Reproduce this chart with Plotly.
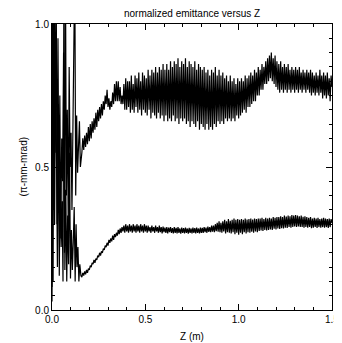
import numpy as np
import plotly.graph_objects as go

# ---- data ----
# early (z < 0.16) strongly oscillating part
z_early_upper = [0.000, 0.004, 0.008, 0.012, 0.017, 0.022, 0.027, 0.032, 0.037, 0.042, 0.047,
                 0.052, 0.057, 0.062, 0.067, 0.072, 0.077, 0.082, 0.087, 0.092, 0.097, 0.102,
                 0.107, 0.112, 0.117, 0.122, 0.127, 0.132, 0.137, 0.142, 0.147, 0.152, 0.156]
eps_early_upper = [0.08, 1.20, 0.35, 1.15, 0.55, 1.25, 0.30, 0.95, 0.40, 0.75, 0.25,
                   0.60, 0.45, 0.90, 0.20, 1.20, 0.40, 0.70, 0.30, 0.85, 0.50, 0.62,
                   0.35, 0.58, 0.80, 1.20, 0.40, 0.68, 0.48, 0.62, 0.66, 0.50, 0.55]

z_early_lower = [0.000, 0.003, 0.006, 0.010, 0.014, 0.019, 0.024, 0.029, 0.034, 0.039, 0.044,
                 0.049, 0.054, 0.059, 0.064, 0.069, 0.074, 0.079, 0.084, 0.089, 0.094, 0.099,
                 0.104, 0.109, 0.114, 0.119, 0.124, 0.129, 0.134, 0.139, 0.144, 0.149, 0.155]
eps_early_lower = [0.03, 0.45, 0.10, 1.20, 0.30, 0.85, 0.55, 0.15, 0.72, 0.12, 0.50,
                   0.22, 0.38, 0.10, 1.20, 0.14, 0.42, 0.10, 0.33, 0.16, 0.55, 0.11,
                   0.28, 0.14, 0.24, 0.36, 0.10, 0.30, 0.15, 0.22, 0.10, 0.16, 0.12]

# main part, sampled every 0.005 m from z = 0.16 to 1.50
z_main = np.round(0.16 + 0.005 * np.arange(269), 3)

eps_upper = [
    0.55, 0.60, 0.56, 0.61, 0.57, 0.62, 0.58, 0.64, 0.59, 0.65,
    0.60, 0.66, 0.62, 0.67, 0.63, 0.69, 0.64, 0.70, 0.66, 0.71,
    0.67, 0.72, 0.68, 0.73, 0.70, 0.75, 0.72, 0.77, 0.71, 0.74,
    0.70, 0.73, 0.71, 0.76, 0.72, 0.79, 0.73, 0.80, 0.73, 0.80,
    0.73, 0.78, 0.72, 0.75, 0.72, 0.79, 0.70, 0.81, 0.70, 0.80,
    0.71, 0.80, 0.69, 0.82, 0.70, 0.79, 0.69, 0.82, 0.71, 0.81,
    0.69, 0.83, 0.70, 0.80, 0.68, 0.83, 0.70, 0.82, 0.69, 0.81,
    0.68, 0.84, 0.70, 0.82, 0.67, 0.84, 0.69, 0.83, 0.68, 0.85,
    0.67, 0.83, 0.69, 0.85, 0.67, 0.84, 0.68, 0.86, 0.66, 0.84,
    0.68, 0.86, 0.66, 0.84, 0.67, 0.87, 0.66, 0.85, 0.68, 0.87,
    0.66, 0.86, 0.67, 0.88, 0.65, 0.85, 0.67, 0.87, 0.66, 0.86,
    0.67, 0.88, 0.65, 0.85, 0.66, 0.87, 0.64, 0.86, 0.66, 0.85,
    0.65, 0.87, 0.64, 0.84, 0.66, 0.86, 0.63, 0.85, 0.65, 0.84,
    0.64, 0.85, 0.63, 0.83, 0.65, 0.84, 0.63, 0.82, 0.64, 0.84,
    0.63, 0.83, 0.65, 0.85, 0.64, 0.82, 0.66, 0.84, 0.65, 0.82,
    0.66, 0.83, 0.65, 0.81, 0.67, 0.82, 0.66, 0.80, 0.67, 0.82,
    0.66, 0.80, 0.67, 0.81, 0.66, 0.79, 0.68, 0.81, 0.67, 0.80,
    0.68, 0.81, 0.69, 0.80, 0.70, 0.82, 0.69, 0.81, 0.71, 0.82,
    0.71, 0.83, 0.72, 0.82, 0.73, 0.84, 0.73, 0.83, 0.75, 0.85,
    0.75, 0.84, 0.77, 0.86, 0.77, 0.85, 0.79, 0.87, 0.79, 0.88,
    0.80, 0.89, 0.81, 0.90, 0.80, 0.88, 0.79, 0.89, 0.78, 0.87,
    0.77, 0.86, 0.76, 0.87, 0.77, 0.85, 0.76, 0.86, 0.77, 0.85,
    0.76, 0.86, 0.77, 0.84, 0.76, 0.85, 0.77, 0.84, 0.76, 0.85,
    0.77, 0.84, 0.76, 0.85, 0.77, 0.83, 0.76, 0.84, 0.77, 0.83,
    0.76, 0.84, 0.77, 0.83, 0.76, 0.84, 0.75, 0.83, 0.76, 0.82,
    0.75, 0.83, 0.76, 0.82, 0.75, 0.84, 0.76, 0.82, 0.74, 0.83,
    0.75, 0.82, 0.74, 0.83, 0.75, 0.81, 0.73, 0.82, 0.78,
]

eps_lower = [
    0.115, 0.13, 0.12, 0.135, 0.125, 0.14, 0.13, 0.145, 0.14, 0.155,
    0.15, 0.165, 0.16, 0.175, 0.165, 0.18, 0.175, 0.19, 0.185, 0.20,
    0.19, 0.205, 0.20, 0.215, 0.21, 0.225, 0.22, 0.235, 0.225, 0.245,
    0.235, 0.25, 0.24, 0.26, 0.245, 0.265, 0.255, 0.27, 0.26, 0.28,
    0.265, 0.285, 0.27, 0.29, 0.275, 0.295, 0.27, 0.30, 0.275, 0.295,
    0.27, 0.30, 0.275, 0.295, 0.27, 0.30, 0.275, 0.295, 0.27, 0.30,
    0.275, 0.295, 0.27, 0.30, 0.275, 0.295, 0.27, 0.30, 0.275, 0.295,
    0.27, 0.295, 0.275, 0.29, 0.27, 0.295, 0.275, 0.29, 0.27, 0.295,
    0.275, 0.29, 0.27, 0.295, 0.272, 0.29, 0.268, 0.292, 0.272, 0.288,
    0.27, 0.29, 0.268, 0.288, 0.272, 0.29, 0.27, 0.286, 0.268, 0.29,
    0.27, 0.287, 0.268, 0.29, 0.27, 0.285, 0.267, 0.288, 0.27, 0.286,
    0.268, 0.288, 0.27, 0.285, 0.267, 0.287, 0.27, 0.285, 0.268, 0.288,
    0.27, 0.286, 0.268, 0.288, 0.27, 0.285, 0.268, 0.288, 0.27, 0.287,
    0.27, 0.29, 0.272, 0.288, 0.27, 0.292, 0.273, 0.29, 0.272, 0.295,
    0.274, 0.295, 0.272, 0.30, 0.276, 0.305, 0.274, 0.31, 0.272, 0.305,
    0.27, 0.31, 0.275, 0.315, 0.268, 0.31, 0.272, 0.318, 0.27, 0.312,
    0.268, 0.315, 0.272, 0.32, 0.265, 0.315, 0.27, 0.318, 0.263, 0.315,
    0.27, 0.318, 0.265, 0.315, 0.272, 0.32, 0.268, 0.316, 0.272, 0.318,
    0.27, 0.32, 0.274, 0.316, 0.27, 0.32, 0.275, 0.318, 0.272, 0.32,
    0.276, 0.32, 0.278, 0.322, 0.276, 0.318, 0.28, 0.322, 0.278, 0.32,
    0.28, 0.322, 0.282, 0.32, 0.28, 0.325, 0.284, 0.322, 0.282, 0.325,
    0.285, 0.325, 0.283, 0.328, 0.286, 0.325, 0.285, 0.33, 0.288, 0.327,
    0.287, 0.33, 0.29, 0.328, 0.288, 0.332, 0.29, 0.33, 0.292, 0.332,
    0.29, 0.33, 0.292, 0.328, 0.29, 0.33, 0.29, 0.326, 0.288, 0.328,
    0.29, 0.325, 0.288, 0.322, 0.29, 0.325, 0.286, 0.32, 0.288, 0.322,
    0.29, 0.32, 0.287, 0.322, 0.29, 0.318, 0.288, 0.32, 0.29, 0.322,
    0.288, 0.32, 0.29, 0.318, 0.287, 0.32, 0.29, 0.318, 0.305,
]

x_ticks = [0.0, 0.5, 1.0, 1.5]
y_ticks = [0.0, 0.5, 1.0]

FONT = "Liberation Sans, Arial, Helvetica, sans-serif"

fig = go.Figure()
fig.add_trace(go.Scatter(
    x=list(z_early_upper) + list(z_main), y=eps_early_upper + eps_upper,
    mode="lines", line=dict(color="black", width=1.2), showlegend=False))
fig.add_trace(go.Scatter(
    x=list(z_early_lower) + list(z_main), y=eps_early_lower + eps_lower,
    mode="lines", line=dict(color="black", width=1.2), showlegend=False))

axis_common = dict(
    showline=True, linecolor="black", linewidth=1, mirror="ticks",
    ticks="inside", ticklen=6, tickcolor="black", tickwidth=1,
    showgrid=False, zeroline=False, tickformat=".1f",
    ticklabeloverflow="allow",
    tickfont=dict(family=FONT, size=10, color="black"),
)

fig.update_xaxes(range=[0, 1.5], tickvals=x_ticks,
                 minor=dict(dtick=0.1, ticks="inside", ticklen=3, tickcolor="black", showgrid=False),
                 **axis_common)
fig.update_yaxes(range=[0, 1.0], tickvals=y_ticks,
                 minor=dict(dtick=0.05, ticks="inside", ticklen=3, tickcolor="black", showgrid=False),
                 **axis_common)

# the page body adds an 8 px offset; size the figure so the plot lands where the reference has it
fig.update_layout(
    width=334, height=335,
    margin=dict(l=44, r=3, t=16, b=33),
    plot_bgcolor="white", paper_bgcolor="white",
    font=dict(family=FONT, size=10, color="black"),
    annotations=[
        dict(text="normalized emittance versus Z", xref="paper", yref="paper",
             x=0.5, y=1.035, xanchor="center", yanchor="middle", showarrow=False,
             font=dict(family=FONT, size=10, color="black")),
        dict(text="Z (m)", xref="paper", yref="paper",
             x=0.5, y=-0.091, xanchor="center", yanchor="middle", showarrow=False,
             font=dict(family=FONT, size=10, color="black")),
        dict(text="(π-mm-mrad)", xref="paper", yref="paper",
             x=-0.105, y=0.5, xanchor="center", yanchor="middle", showarrow=False,
             textangle=-90, font=dict(family=FONT, size=10, color="black")),
    ],
)

fig.write_html("out.html")
